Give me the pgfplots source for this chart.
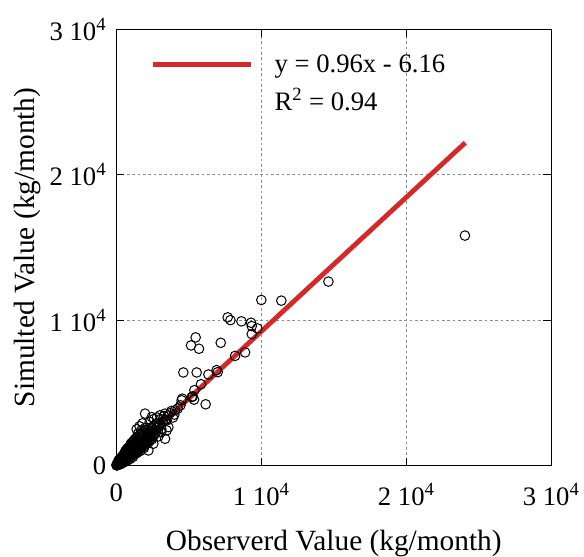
\documentclass[border=0pt]{standalone}
\usepackage{pgfplots}
\pgfplotsset{compat=1.18}
\usepackage{fontspec}
\setmainfont{Liberation Serif}
\definecolor{fitred}{RGB}{214,40,40}

\begin{document}
\begin{tikzpicture}
\begin{axis}[
  scale only axis,
  width=326pt, height=327pt,
  xmin=0, xmax=30000, ymin=0, ymax=30000,
  xtick={0,10000,20000,30000}, ytick={0,10000,20000,30000},
  xticklabels={0,{1 10\textsuperscript{4}},{2 10\textsuperscript{4}},{3 10\textsuperscript{4}}},
  yticklabels={0,{1 10\textsuperscript{4}},{2 10\textsuperscript{4}},{3 10\textsuperscript{4}}},
  scaled ticks=false,
  tick align=inside, major tick length=6pt,
  tick style={black, line width=0.6pt},
  grid=major, grid style={gray!90, dash pattern=on 2pt off 2pt, line width=0.5pt},
  axis line style={black, line width=0.7pt},
  tick label style={font=\fontsize{20}{23}\selectfont},
  xticklabel style={yshift=-10pt},
  yticklabel style={xshift=-4pt},
  xlabel={Observerd Value (kg/month)},
  ylabel={Simulted Value (kg/month)},
  label style={font=\fontsize{22}{26}\selectfont},
  xlabel style={inner ysep=0pt, yshift=-14.3pt},
  ylabel style={yshift=0pt},
  legend style={draw=none, fill=none, at={(0.07,0.955)}, anchor=north west,
    font=\fontsize{20}{24}\selectfont, row sep=6pt},
  legend cell align=left,
  legend image code/.code={\draw[#1] (0pt,0pt) -- (73pt,0pt);},
]
\coordinate (topleft) at (rel axis cs:0,1);
\addplot[fitred, line width=3.6pt] coordinates {(0,0)(24070,22200)};
\addlegendentry{\hspace*{14pt}y = 0.96x - 6.16}
\addlegendimage{empty legend}
\addlegendentry{\hspace*{14pt}R\textsuperscript{2} = 0.94}
\addplot[only marks, mark=o, mark size=3.6pt, mark options={line width=0.75pt, black}, forget plot] coordinates {
(24048,15814)(14630,12650)(10000,11385)(11380,11340)
(7680,10190)(7870,10000)(8630,9915)(9290,9820)(9340,9590)(9730,9430)(9340,9040)
(5470,8810)(5150,8260)(5700,8030)(7200,8440)(8880,7780)(8190,7540)
(4620,6400)(5540,6400)(6920,6560)(6990,6420)(6350,6260)(5840,5590)(5380,5180)
(5200,4710)(4550,4600)(6160,4210)(5360,4530)(5270,4760)(4500,4490)(4420,4140)
(4050,3800)(4230,3910)(3360,3570)(3360,1840)(1980,3570)(2440,3330)(3010,3450)
(3470,3100)(3590,2640)(2440,2640)(2670,2300)(2210,1950)(2550,1500)(1750,1260)
(3470,2415)(3010,2880)(2210,1035)(2090,1500)
(50,40)(80,120)(120,90)(150,200)(200,150)(220,260)(260,210)(300,330)(320,250)
(350,420)(380,300)(400,380)(450,500)(480,390)(500,600)(520,450)(560,520)(600,700)
(620,540)(650,800)(680,620)(700,900)(720,650)(760,780)(800,1000)(820,720)(850,880)
(880,1100)(900,800)(950,950)(980,1200)(1000,850)(1050,1050)(1080,1300)(1100,950)
(1150,1150)(1180,1400)(1200,1000)(1250,1250)(1280,1500)(1300,1100)(1350,1350)
(1400,1600)(1420,1200)(1450,1450)(1500,1750)(1520,1300)(1550,1550)(1600,1850)
(1650,1400)(1700,1650)(1750,2000)(1800,1550)(1850,1800)(1900,2100)(1950,1700)
(2000,1950)(2100,2250)(2150,1800)(2200,2100)(2300,2400)(2400,2000)(2500,2300)
(2600,2700)(2700,2200)(2800,2600)(3000,2800)(3100,2500)(150,350)(250,450)(400,600)
(600,900)(700,450)(900,600)(1100,700)(1300,800)(300,100)(500,300)(1000,1500)
(1200,1700)(1500,2200)(1700,2400)(2000,2600)(1800,2900)(2300,3000)(2600,3200)
(1600,2700)(1400,2500)(2800,3300)(3200,3000)(3300,3400)(3700,3600)(3900,3300)
(2900,2000)(3100,2300)
(30,80)(60,20)(100,180)(130,60)(170,280)(190,110)(230,380)(270,150)(290,480)
(340,190)(360,560)(420,260)(440,680)(470,310)(530,760)(580,380)(610,980)(640,430)
(690,1080)(740,520)(770,1180)(830,590)(870,1260)(920,680)(960,1380)(1020,760)
(1060,1560)(1120,820)(1160,1640)(1230,880)(1270,1800)(1330,960)(1380,1900)
(1440,1050)(1480,2000)(1560,1150)(1620,2100)(1680,1250)(1720,2200)(1780,1350)
(1830,2300)(1880,1450)(1940,2450)(1980,1600)(2060,2050)(2120,1650)(2250,1750)
(2350,2150)(2450,2550)(2550,2000)(2650,2450)(2750,2900)(2950,2650)(3050,3200)
(3400,3150)(3550,3450)(3800,3750)(4000,3500)(2450,1800)(1900,1200)(1650,1000)
(1400,850)(1150,600)(950,450)(750,350)(550,230)(350,120)
(10,10)(20,50)(40,15)(70,70)(90,40)(110,130)(140,110)(160,160)(180,80)(210,210)
(240,120)(250,300)(280,260)(310,180)(330,370)(370,350)(390,220)(410,470)(430,400)
(460,280)(490,540)(510,510)(540,350)(570,620)(590,580)(630,400)(660,720)(700,680)
(730,480)(780,860)(810,820)(840,560)(890,960)(930,920)(970,650)(1010,1100)
(1040,990)(1090,730)(1130,1220)(1170,1080)(1210,800)(1260,1380)(1310,1230)
(1360,900)(1410,1480)(1460,1320)(1510,1000)(1570,1650)(1630,1520)(1690,1150)
(1760,1800)(1820,1700)(1890,1300)(1960,1950)(2030,1850)(2180,2000)(2280,1650)
};
\end{axis}
\path (topleft) ++(0pt,22pt);
\path (current axis.outer west) ++(-7pt,0pt);
\end{tikzpicture}
\end{document}
